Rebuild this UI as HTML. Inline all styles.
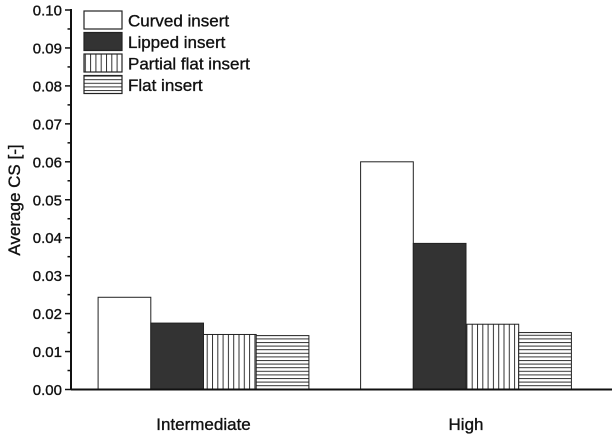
<!DOCTYPE html>
<html><head><meta charset="utf-8"><style>
body{margin:0;background:#fff}
svg{display:block;font-family:"Liberation Sans",Arial,sans-serif}
text{stroke:#111;stroke-width:0.35}
</style></head><body>
<svg id="chart" width="616" height="435">
<defs>
<pattern id="vstripe" width="5.3" height="10" patternUnits="userSpaceOnUse"><rect width="5.3" height="10" fill="#fff"/><line x1="0.5" y1="0" x2="0.5" y2="10" stroke="#333" stroke-width="1"/></pattern>
<pattern id="hstripe" width="10" height="3.6" patternUnits="userSpaceOnUse"><rect width="10" height="3.6" fill="#fff"/><line x1="0" y1="0.5" x2="10" y2="0.5" stroke="#333" stroke-width="1"/></pattern>
</defs>
<g id="bars"></g>
<g id="axes"></g>
<g id="legend"></g>
</svg>
<script>
const categories = ["Intermediate", "High"];
const seriesNames = ["Curved insert", "Lipped insert", "Partial flat insert", "Flat insert"];
const curved = [0.0243, 0.060];
const lipped = [0.0175, 0.0385];
const partialFlat = [0.0145, 0.0172];
const flat = [0.0142, 0.0150];
const yTicks = ["0.00","0.01","0.02","0.03","0.04","0.05","0.06","0.07","0.08","0.09","0.10"];

const NS = "http://www.w3.org/2000/svg";
const X0 = 71, X1 = 612, Y0 = 389.5, Y1 = 10, YMAX = 0.10;
const y = v => Y0 - (v / YMAX) * (Y0 - Y1);
const groupCenters = [203.5, 466];
const barW = 52.7;
const fills = ["#fff", "#333", "url(#vstripe)", "url(#hstripe)"];
const series = [curved, lipped, partialFlat, flat];
function mk(tag, attrs, parent) {
  const e = document.createElementNS(NS, tag);
  for (const k in attrs) e.setAttribute(k, attrs[k]);
  parent.appendChild(e);
  return e;
}
const gb = document.getElementById("bars");
series.forEach((s, si) => {
  s.forEach((v, ci) => {
    const x = groupCenters[ci] - 2 * barW + si * barW;
    const r = mk("rect", {x: x, y: y(v), width: barW, height: Y0 - y(v), fill: fills[si], stroke: "#222", "stroke-width": 1}, gb);
    
    
  });
});
const ga = document.getElementById("axes");
const ax = mk("line", {x1: X0, y1: Y1 - 1, x2: X0, y2: Y0, stroke: "#111", "stroke-width": 2}, ga);


const bx = mk("line", {x1: X0, y1: Y0, x2: X1, y2: Y0, stroke: "#111", "stroke-width": 2}, ga);


yTicks.forEach((t, i) => {
  const v = i * 0.01, yy = y(v);
  mk("line", {x1: X0 - 6, y1: yy, x2: X0, y2: yy, stroke: "#111", "stroke-width": 1.5}, ga);
  if (i < yTicks.length - 1) mk("line", {x1: X0 - 3.5, y1: y(v + 0.005), x2: X0, y2: y(v + 0.005), stroke: "#111", "stroke-width": 1.5}, ga);
  const tx = mk("text", {x: X0 - 9, y: yy + 5.5, "text-anchor": "end", "font-size": 15, fill: "#111"}, ga);
  tx.textContent = t;
  
  
});
categories.forEach((c, i) => {
  const tx = mk("text", {x: groupCenters[i], y: 430, "text-anchor": "middle", "font-size": 17, fill: "#111"}, ga);
  tx.textContent = c;
  
  
});
const yt = mk("text", {x: 0, y: 0, transform: "translate(20,200) rotate(-90)", "text-anchor": "middle", "font-size": 17, fill: "#111"}, ga);
yt.textContent = "Average CS [-]";


const gl = document.getElementById("legend");
seriesNames.forEach((n, i) => {
  const yy = 11 + i * 21.5;
  const r = mk("rect", {x: 84, y: yy, width: 38, height: 18, fill: fills[i], stroke: "#222", "stroke-width": 1.2}, gl);
  
  
  const t = mk("text", {x: 128, y: yy + 15.5, "font-size": 17, fill: "#111"}, gl);
  t.textContent = n;
  
  
});
</script>
</body></html>
